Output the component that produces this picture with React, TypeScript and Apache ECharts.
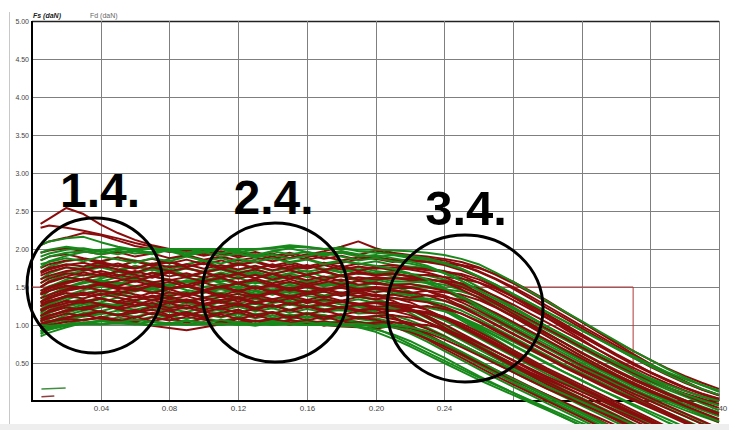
import React, { useEffect, useRef } from 'react';
import * as echarts from 'echarts';

// x positions (displacement) shared by all curves
const X = [0.005,0.01,0.02,0.03,0.04,0.05,0.06,0.07,0.08,0.09,0.10,0.11,0.12,0.13,0.14,0.15,0.16,0.17,0.18,0.19,0.20,0.21,0.22,0.23,0.24,0.25,0.26,0.27,0.28,0.29,0.30,0.31,0.32,0.33,0.34,0.35,0.36,0.37,0.38,0.39,0.40];

// force values, hundredths of daN
const GREEN_CURVES = [
  [176,184,191,196,199,200,200,200,200,200,200,200,200,200,201,203,202,200,200,199,199,198,197,195,192,187,180,169,157,144,131,118,105,92,79,66,54,42,31,21,12],
  [190,194,199,201,197,193,198,202,197,191,196,200,194,190,197,201,196,192,197,193,189,192,188,186,181,174,164,153,141,129,117,105,93,81,70,59,48,38,29,21,14],
  [205,210,214,216,209,203,199,195,199,192,196,190,194,189,193,187,191,195,190,185,188,184,181,176,168,158,146,134,122,110,98,86,74,62,50,39,28,18,9,1,-6],
  [170,177,184,187,183,189,185,180,187,191,184,188,182,186,190,183,187,181,185,180,184,179,177,175,170,162,150,137,124,111,98,85,72,59,46,34,22,11,1,-8,-16],
  [160,168,176,174,181,177,184,178,173,180,185,176,181,175,179,172,178,174,170,176,171,168,164,157,146,134,122,110,98,86,74,62,50,38,27,16,6,-3,-12,-20,-28],
  [150,158,167,171,176,170,178,173,168,175,170,176,169,173,167,172,166,171,174,167,168,164,160,155,147,135,122,109,96,83,70,57,45,33,21,10,0,-10,-20,-30,-38],
  [140,150,160,166,163,171,167,174,170,164,169,173,166,170,164,168,171,163,166,160,157,151,144,133,121,109,97,85,73,61,49,38,27,16,6,-4,-14,-24,-34,-42],
  [130,139,150,157,161,166,160,164,169,162,158,165,161,166,159,163,157,161,164,158,160,155,154,151,146,138,127,115,103,91,79,67,55,44,33,22,12,2,-8,-18,-27],
  [125,134,145,150,157,153,160,155,151,158,162,155,150,157,153,149,156,151,155,149,147,145,139,131,119,106,93,80,67,54,42,30,18,7,-4,-15,-26,-37],
  [120,129,139,146,150,156,151,147,154,158,150,154,148,152,146,153,149,144,150,145,147,142,139,133,122,109,95,81,67,53,40,27,15,3,-9,-21,-33,-42],
  [115,124,133,141,145,150,144,149,153,146,142,149,144,140,147,142,145,139,143,137,134,128,120,109,97,85,73,61,49,37,26,15,4,-7,-18,-29,-39],
  [112,120,129,135,142,138,145,149,142,139,146,141,137,144,140,145,138,136,142,137,140,135,134,132,127,119,108,96,84,72,60,48,37,26,15,5,-5,-15,-25,-35,-44],
  [108,116,125,131,136,141,137,133,140,144,136,139,134,138,132,137,131,135,130,134,129,126,120,112,100,87,74,61,48,36,24,12,1,-10,-21,-32,-42],
  [105,111,120,127,130,136,132,138,134,129,136,133,128,134,130,135,129,132,127,124,118,110,99,87,75,63,51,39,28,17,6,-5,-16,-27,-38],
  [100,108,116,122,128,125,131,127,133,129,124,131,127,123,129,132,125,128,123,127,124,122,120,115,106,95,83,71,59,47,35,24,13,2,-9,-20,-31,-41],
  [98,104,113,119,123,128,124,129,125,121,127,123,128,122,126,120,125,121,119,120,116,110,100,88,75,62,49,37,25,13,2,-9,-20,-31,-41],
  [95,102,109,116,118,124,120,125,121,117,123,119,124,118,122,116,121,117,120,115,116,113,106,97,86,74,62,50,38,27,16,5,-6,-17,-28,-38],
  [92,98,106,111,114,119,116,121,117,113,119,115,120,114,117,112,116,113,109,104,96,86,75,64,53,42,31,21,11,1,-9,-19,-29,-38],
  [88,94,101,107,110,115,111,116,112,108,114,110,115,109,113,108,112,107,111,108,105,99,89,78,66,54,42,30,19,8,-3,-14,-25,-36],
  [85,90,97,103,105,110,106,111,107,104,109,105,110,104,108,103,107,102,106,104,102,99,93,83,72,60,48,36,25,14,3,-8,-19,-30,-40],
  [90,94,99,102,105,103,107,104,101,106,102,107,103,100,105,101,104,100,102,97,91,82,72,61,50,39,28,18,8,-2,-12,-22,-32,-41],
  [95,98,101,103,101,104,102,100,103,101,104,100,102,99,103,101,100,102,99,98,94,88,79,68,57,45,33,22,11,0,-11,-22,-33,-42],
  [100,99,100,101,101,102,101,100,101,100,101,102,100,101,100,101,100,100,99,100,98,97,93,86,76,65,53,41,29,18,7,-4,-15,-26,-37],
  [185,190,195,197,193,198,194,196,200,195,197,201,196,199,202,205,203,200,202,197,195,193,191,188,182,174,164,153,141,129,117,105,93,81,69,57,46,35,25,16,8],
  [135,145,155,161,165,170,164,168,172,166,163,169,164,168,162,167,163,161,166,160,162,158,157,156,153,146,136,124,111,98,85,72,59,47,35,24,14,5,-4,-12,-20],
  [145,151,158,161,157,163,159,164,160,156,161,157,162,155,159,154,158,153,157,152,155,151,150,149,147,144,137,127,115,102,89,76,63,51,39,28,18,9,1,-7,-15],
  [120,128,136,141,146,142,149,144,148,151,143,147,142,146,140,145,141,144,139,143,138,140,136,135,132,126,116,105,93,81,69,57,45,34,23,13,3,-7,-17,-27,-36],
  [110,116,124,129,134,131,137,133,138,132,136,131,135,130,134,129,133,128,132,127,130,126,125,123,118,110,100,89,78,67,56,45,34,24,14,4,-6,-16,-26,-36],
  [180,183,188,184,190,186,182,188,184,190,185,181,187,183,188,182,186,180,184,181,178,174,168,160,149,137,125,113,101,89,77,65,53,41,30,19,9,0,-9,-18,-27],
  [155,163,170,175,179,173,177,172,178,174,170,176,172,177,171,175,170,174,169,173,168,171,167,165,160,152,141,129,117,105,93,81,69,57,46,35,25,15,6,-3,-12],
  [130,140,149,155,159,154,161,157,152,159,155,160,153,157,151,156,152,155,150,153,149,146,141,133,122,110,98,86,74,62,50,38,27,16,5,-6,-17,-28,-38],
  [118,127,136,141,146,140,145,149,143,139,146,142,147,140,144,139,143,138,141,137,133,126,116,104,92,80,68,56,44,33,22,11,0,-11,-22,-33,-43],
  [104,111,119,124,129,126,131,127,123,129,125,130,124,128,122,127,123,126,121,125,120,123,119,115,108,99,88,76,64,52,40,29,18,7,-4,-15,-26,-37],
  [96,102,108,112,116,113,118,114,110,116,112,117,111,115,110,114,109,113,108,111,109,104,96,86,75,63,51,39,28,17,6,-5,-16,-27,-38],
  [92,96,100,103,106,103,101,105,102,106,103,100,104,101,105,102,100,103,101,102,99,100,97,92,84,74,63,52,41,30,19,9,-1,-11,-21,-31,-41],
  [195,199,203,200,196,201,197,193,199,195,200,194,198,192,197,193,196,191,195,190,192,188,184,178,169,158,146,134,122,110,98,86,74,62,51,40,30,21,13,6,0],
];

const RED_CURVES = [
  [233,240,254,246,232,221,212,205,200,195,199,193,197,190,194,188,193,187,191,186,189,185,186,183,179,172,163,152,140,127,114,101,88,75,62,50,38,27,17,9,3],
  [228,231,228,224,219,214,208,203,199,196,191,195,189,193,187,192,186,190,185,189,187,183,186,184,182,178,171,161,150,138,125,112,99,86,73,60,48,36,25,15,7],
  [205,210,215,221,218,211,204,200,196,199,193,197,191,196,190,195,189,194,197,192,198,193,190,188,185,179,170,160,148,135,122,109,96,83,70,57,45,34,24,15,8],
  [195,198,201,197,193,196,190,194,188,192,186,190,185,189,184,188,192,197,203,210,201,195,192,190,187,183,176,166,155,143,130,117,104,91,78,66,54,43,33,24,16],
  [185,190,193,188,184,189,183,187,181,186,180,185,179,184,178,183,177,182,176,181,177,179,175,174,171,165,156,145,133,121,109,97,85,73,61,49,38,28,18,9,1],
  [175,180,185,187,181,177,184,178,183,176,182,175,181,174,180,173,179,172,178,171,176,172,175,172,170,167,160,150,137,123,109,95,81,67,54,41,29,18,8,-1,-9],
  [165,170,176,172,178,173,169,176,171,175,169,174,168,173,167,172,166,171,165,170,166,168,164,161,156,147,136,124,112,100,88,76,64,52,41,30,20,10,1,-8,-16],
  [160,165,171,174,168,164,171,165,170,163,169,162,168,161,167,160,166,159,165,160,163,161,162,160,157,150,140,128,115,102,89,76,63,51,39,28,18,8,-1,-10,-18],
  [150,156,163,160,166,161,157,164,159,163,157,162,156,161,155,160,154,159,153,158,154,153,150,145,136,125,113,101,89,77,65,53,42,31,20,10,0,-10,-20,-30,-39],
  [145,150,157,161,155,151,158,152,157,150,156,149,155,148,154,147,153,146,152,147,150,148,149,145,139,130,119,107,95,83,71,59,47,36,25,14,4,-6,-16,-26,-36],
  [140,145,152,149,155,150,146,153,148,152,146,151,145,150,144,149,143,148,142,147,143,146,142,145,143,140,133,123,111,98,85,72,59,47,35,24,14,4,-6,-15,-24],
  [135,140,147,151,145,141,148,142,147,140,146,139,145,138,144,137,143,136,142,138,140,136,130,120,109,97,85,73,61,49,38,27,16,5,-6,-17,-28,-38],
  [130,135,142,139,145,140,136,143,138,142,136,141,135,140,134,139,133,138,132,137,134,136,133,130,124,115,104,92,80,68,56,44,33,22,11,1,-9,-19,-29,-38],
  [125,130,137,141,135,131,138,132,137,130,136,129,135,128,134,127,133,126,132,128,130,129,126,120,110,99,87,75,63,51,39,28,17,6,-5,-16,-27,-37],
  [120,125,132,129,135,130,126,133,128,132,126,131,125,130,124,129,123,128,122,127,124,126,123,125,121,115,105,94,82,70,58,46,35,24,13,3,-7,-17,-27,-37],
  [118,123,129,133,127,123,130,124,129,122,128,121,127,120,126,119,125,118,124,120,121,119,113,104,93,82,71,60,49,38,28,18,8,-2,-12,-22,-32,-41],
  [112,117,123,120,126,121,117,124,119,123,117,122,116,121,115,120,114,119,113,118,115,119,118,115,109,99,88,76,64,52,40,29,18,7,-4,-15,-26,-36],
  [108,113,119,123,117,113,120,114,119,112,118,111,117,110,116,109,115,108,114,110,112,113,110,104,95,84,72,60,48,36,25,14,3,-8,-19,-30,-40],
  [105,109,115,112,118,113,109,116,111,115,109,114,108,113,107,112,106,111,105,110,107,101,92,81,69,57,45,33,22,11,0,-11,-22,-33,-42],
  [100,104,110,114,108,104,111,105,110,103,109,102,108,101,107,100,106,99,105,101,103,104,101,100,95,86,76,65,54,43,32,22,12,2,-8,-18,-28,-38],
  [98,100,104,107,109,106,103,99,96,93,97,101,104,106,102,107,103,105,101,104,100,97,91,82,72,61,50,39,28,18,8,-2,-12,-22,-32,-41],
  [102,105,108,106,111,107,104,110,106,111,107,104,109,105,108,104,102,100,98,97,95,99,96,90,81,71,60,49,38,27,16,6,-4,-14,-24,-34,-43],
  [170,175,180,177,183,178,174,181,176,180,174,179,173,178,172,177,174,179,182,186,189,186,184,183,181,179,175,167,157,145,132,118,104,90,76,62,49,37,26,16,8],
  [155,161,168,165,171,166,162,169,164,168,162,167,161,166,160,165,159,164,158,163,160,162,159,160,158,155,148,138,127,115,103,91,79,67,55,44,33,23,14,6,-1],
  [140,145,151,148,154,149,145,152,147,151,145,150,144,149,143,148,142,147,141,145,139,132,122,110,97,84,71,58,46,34,22,11,0,-11,-22,-33,-43],
  [128,132,138,135,141,136,132,139,134,138,132,137,131,136,130,135,129,134,130,128,121,111,100,88,76,64,52,41,30,19,8,-3,-14,-25,-36],
  [168,173,179,182,176,181,175,180,184,177,181,174,179,183,176,180,175,179,173,177,174,176,173,169,163,154,143,131,119,107,95,83,71,59,48,37,27,18,10,3,-4],
  [150,157,164,169,165,171,166,162,169,164,170,163,167,162,168,161,166,170,164,168,165,167,164,166,163,161,156,148,137,125,112,99,86,73,60,48,37,27,18,10,3],
  [142,148,155,160,154,158,163,156,160,153,158,162,155,159,152,157,151,156,160,153,156,152,154,150,145,137,126,114,102,90,78,66,54,42,31,21,11,2,-7,-16,-25],
  [130,137,145,149,153,147,151,155,148,152,146,151,155,148,152,145,150,146,149,144,148,145,143,139,132,123,112,100,88,76,64,52,40,29,18,7,-4,-15,-26,-36],
  [124,131,138,143,139,145,140,136,143,138,144,137,141,136,142,135,140,144,138,142,137,140,136,139,137,133,126,116,104,92,80,68,56,44,33,22,12,2,-8,-18,-28],
  [112,119,126,131,135,129,133,137,130,134,128,133,137,130,134,127,132,128,131,126,129,125,120,112,101,89,77,65,53,41,30,19,8,-3,-14,-25,-36],
  [106,112,118,123,127,121,125,129,122,126,120,125,129,122,126,119,124,120,123,118,122,119,120,117,111,102,91,79,67,55,43,32,21,10,-1,-12,-23,-34],
  [100,105,110,114,118,112,116,120,113,117,111,116,120,113,117,110,115,111,114,109,112,108,103,95,85,74,63,52,41,30,19,8,-3,-14,-25,-36],
];

const LIMIT_BOX = [[0, 1.5], [0.35, 1.5], [0.35, 0], [0.40, 0]];
const GREEN_STUB = [[0.0055, 0.158], [0.0196, 0.17]];
const RED_STUB = [[0.0055, 0.055], [0.013, 0.066]];
const Y_TICKS = [0.5, 1.0, 1.5, 2.0, 2.5, 3.0, 3.5, 4.0, 4.5, 5.0];
const X_TICKS = [0.04, 0.08, 0.12, 0.16, 0.20, 0.24, 0.28, 0.32, 0.36, 0.40];
const X_LABELS_SHOWN = ['0.04', '0.08', '0.12', '0.16', '0.20', '0.24', '0.40'];
const ZONE_LABELS = ['1.4.', '2.4.', '3.4.'];
const LEGEND_NAMES = ['Fs (daN)', 'Fd (daN)'];

const GREEN = '#17891a';
const RED = '#8a0c0c';
// green curves drawn after the red ones (edge curves of the band stay visible)
const GREEN_ON_TOP = [0, 1, 2, 20, 21, 22, 23, 28, 34, 35];

export default function App() {
  const ref = useRef<HTMLDivElement>(null);
  useEffect(() => {
    if (!ref.current) return;
    const chart = echarts.init(ref.current, null, { renderer: 'svg' });
    const toData = (c: number[]) => c.map((v, i) => [X[i], v / 100]);
    const under: any[] = [];
    const over: any[] = [];
    GREEN_CURVES.forEach((c, i) => (GREEN_ON_TOP.includes(i) ? over : under).push({ data: toData(c), color: GREEN }));
    const reds = RED_CURVES.map((c) => ({ data: toData(c), color: RED }));
    const series = [
      { data: LIMIT_BOX, color: '#b23838', width: 1, z: 2 },
      ...under,
      ...reds,
      ...over,
      { data: GREEN_STUB, color: '#3f8f3f', width: 1.5 },
      { data: RED_STUB, color: '#8f3f3f', width: 1.5 },
    ].map((s: any) => ({
      type: 'line',
      data: s.data,
      symbol: 'none',
      showSymbol: false,
      silent: true,
      clip: false,
      z: s.z ?? 3,
      lineStyle: { color: s.color, width: s.width ?? 2 },
    }));

    // plot spans y 21..401 for 0..5 (76 px per daN); the drawing area continues below to y=424
    const yMinExt = 5 - (430 - 21 - 6) / ((430 - 21 - 29) / 5);

    chart.setOption({
      animation: false,
      backgroundColor: '#ffffff',
      grid: { left: 32, right: 10, top: 21, bottom: 6, show: false },
      xAxis: { type: 'value', min: 0, max: 0.4, show: false },
      yAxis: { type: 'value', min: yMinExt, max: 5, show: false },
      series,
    });

    const px = (x: number, y: number) => chart.convertToPixel({ gridIndex: 0 }, [x, y]) as number[];
    const crisp = (v: number) => Math.round(v) + 0.5;
    const [x0, y0] = px(0, 0);
    const [xEnd, yTop] = px(0.4, 5);
    const els: any[] = [];
    const font = 'Liberation Sans';
    Y_TICKS.forEach((v) => {
      const y = crisp(px(0, v)[1]);
      els.push({ type: 'line', shape: { x1: x0, y1: y, x2: xEnd, y2: y }, style: { stroke: v === 5 ? '#222' : '#7f7f7f', lineWidth: v === 5 ? 1.5 : 1 }, z: 1 });
      els.push({ type: 'text', x: x0 - 3, y, style: { text: v.toFixed(2), align: 'right', verticalAlign: 'middle', fontSize: 7, fontFamily: font, fill: '#444' }, z: 1 });
    });
    X_TICKS.forEach((v) => {
      const x = crisp(px(v, 0)[0]);
      els.push({ type: 'line', shape: { x1: x, y1: yTop, x2: x, y2: y0 }, style: { stroke: '#7f7f7f', lineWidth: 1 }, z: 1 });
      const t = v.toFixed(2);
      if (X_LABELS_SHOWN.includes(t)) {
        els.push({ type: 'text', x, y: y0 + 7, style: { text: t, align: 'center', verticalAlign: 'middle', fontSize: 8, fontFamily: font, fill: '#444' }, z: 1 });
      }
    });
    els.push({ type: 'line', shape: { x1: x0, y1: y0, x2: xEnd, y2: y0 }, style: { stroke: '#000', lineWidth: 2 }, z: 1 });
    els.push({ type: 'line', shape: { x1: x0, y1: yTop, x2: x0, y2: y0 + 1 }, style: { stroke: '#000', lineWidth: 2 }, z: 1 });

    const circles = [
      { cx: 95, cy: 285.5, rx: 68, ry: 67.5 },
      { cx: 275, cy: 292.5, rx: 73, ry: 69.5 },
      { cx: 465, cy: 308.5, rx: 78, ry: 73.5 },
    ];
    const labelPos = [
      { x: 100, y: 190.5, size: 48 },
      { x: 273.5, y: 197, size: 48 },
      { x: 466, y: 207.5, size: 49 },
    ];

    chart.setOption({
      graphic: [
        ...els,
        { type: 'line', shape: { x1: 9.5, y1: 12, x2: 9.5, y2: 424 }, style: { stroke: '#c8c8c8', lineWidth: 1 }, z: 50 },
        { type: 'rect', shape: { x: 0, y: 424, width: 729, height: 6 }, style: { fill: '#eeeeee' }, z: 100 },
        { type: 'text', x: 33, y: 15, style: { text: LEGEND_NAMES[0], fontSize: 7, fontWeight: 'bold', fontStyle: 'italic', fontFamily: font, fill: '#222', verticalAlign: 'middle' }, z: 50 },
        { type: 'text', x: 90, y: 15, style: { text: LEGEND_NAMES[1], fontSize: 7, fontFamily: font, fill: '#666', verticalAlign: 'middle' }, z: 50 },
        ...circles.map((c) => ({
          type: 'ellipse', shape: { cx: c.cx, cy: c.cy, rx: c.rx, ry: c.ry },
          style: { fill: 'none', stroke: '#000', lineWidth: 3 }, z: 60,
        })),
        ...ZONE_LABELS.map((t, i) => ({
          type: 'text', x: labelPos[i].x, y: labelPos[i].y,
          style: { text: t, fontSize: labelPos[i].size, fontWeight: 'bold', fontFamily: font, fill: '#000', align: 'center', verticalAlign: 'middle' },
          z: 60,
        })),
      ],
    });
    return () => chart.dispose();
  }, []);
  return <div ref={ref} style={{ position: 'absolute', left: 0, top: 0, width: 729, height: 430 }} />;
}
